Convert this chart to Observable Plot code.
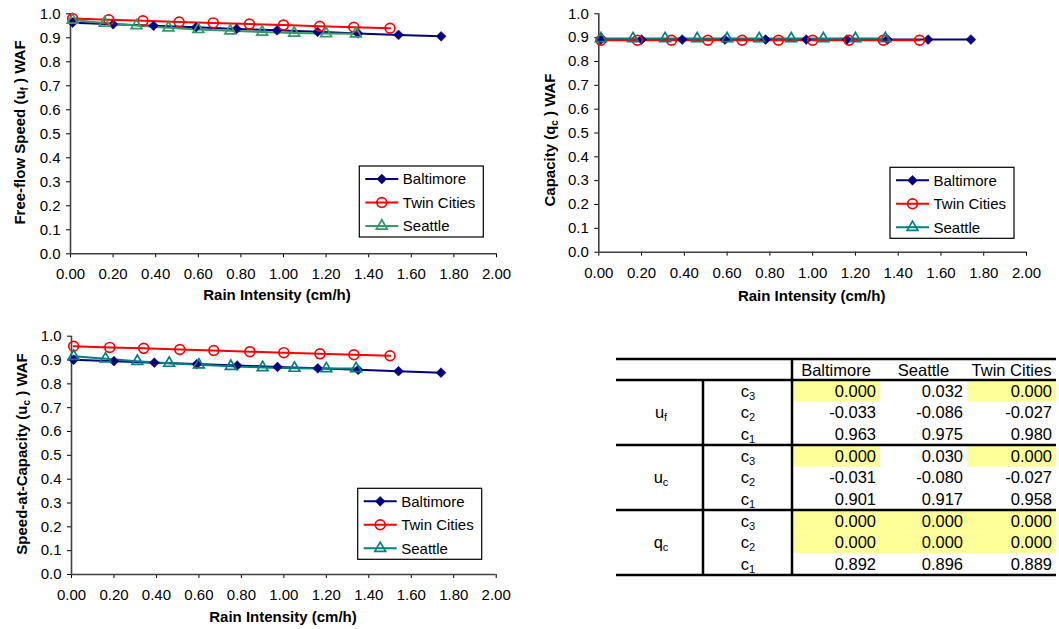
<!DOCTYPE html>
<html><head><meta charset="utf-8">
<script src="https://cdn.jsdelivr.net/npm/d3@7"></script>
<script src="https://cdn.jsdelivr.net/npm/@observablehq/plot@0.6"></script>
<style>
body{margin:0;background:#fff;font-family:"Liberation Sans",Arial,sans-serif;}
#root{position:relative;width:1059px;height:629px;overflow:hidden;background:#fff;}
.abs{position:absolute;}
</style></head><body><div id="root"></div>
<script>
// ---------- data ----------
const cityNames = ["Baltimore", "Twin Cities", "Seattle"];
const xTicks = [0, 0.2, 0.4, 0.6, 0.8, 1.0, 1.2, 1.4, 1.6, 1.8, 2.0];
const yTicks = [0, 0.1, 0.2, 0.3, 0.4, 0.5, 0.6, 0.7, 0.8, 0.9, 1.0];
const xAxisTitle = "Rain Intensity (cm/h)";

const baltimoreX = [0.01, 0.20, 0.39, 0.59, 0.78, 0.97, 1.16, 1.35, 1.54, 1.74];
const twinX      = [0.01, 0.18, 0.34, 0.51, 0.67, 0.84, 1.00, 1.17, 1.33, 1.50];
const seattleX   = [0.01, 0.16, 0.31, 0.46, 0.60, 0.75, 0.90, 1.05, 1.20, 1.34];

const baltimoreUf = [0.963, 0.956, 0.950, 0.944, 0.937, 0.931, 0.925, 0.918, 0.912, 0.906];
const twinUf      = [0.980, 0.975, 0.971, 0.966, 0.962, 0.957, 0.953, 0.948, 0.944, 0.940];
const seattleUf   = [0.974, 0.962, 0.951, 0.942, 0.935, 0.929, 0.924, 0.920, 0.918, 0.917];

const baltimoreQc = [0.892, 0.892, 0.892, 0.892, 0.892, 0.892, 0.892, 0.892, 0.892, 0.892];
const twinQc      = [0.889, 0.889, 0.889, 0.889, 0.889, 0.889, 0.889, 0.889, 0.889, 0.889];
const seattleQc   = [0.896, 0.896, 0.896, 0.896, 0.896, 0.896, 0.896, 0.896, 0.896, 0.896];

const baltimoreUc = [0.901, 0.895, 0.889, 0.883, 0.877, 0.871, 0.865, 0.859, 0.853, 0.847];
const twinUc      = [0.958, 0.953, 0.949, 0.944, 0.940, 0.935, 0.931, 0.926, 0.922, 0.918];
const seattleUc   = [0.916, 0.905, 0.895, 0.887, 0.880, 0.874, 0.869, 0.866, 0.864, 0.864];

// table
const tableCities = ["Baltimore", "Seattle", "Twin Cities"];
const paramBase = ["u", "u", "q"];
const paramSub = ["f", "c", "c"];
const coefSub = ["3", "2", "1"];
const ufCoefs = [[0.000, 0.032, 0.000], [-0.033, -0.086, -0.027], [0.963, 0.975, 0.980]];
const ucCoefs = [[0.000, 0.030, 0.000], [-0.031, -0.080, -0.027], [0.901, 0.917, 0.958]];
const qcCoefs = [[0.000, 0.000, 0.000], [0.000, 0.000, 0.000], [0.892, 0.896, 0.889]];
const highlightUf = [[1, 0, 1], [0, 0, 0], [0, 0, 0]];
const highlightUc = [[1, 0, 1], [0, 0, 0], [0, 0, 0]];
const highlightQc = [[1, 1, 1], [1, 1, 1], [0, 0, 0]];

// ---------- styles ----------
const NAVY = "#000080", RED = "#FF0000", GREEN = "#339966", TEAL = "#008080";
const FONT = "'Liberation Sans', Arial, sans-serif";
const root = document.getElementById("root");

function rows(xs, ys) { return xs.map((x, i) => ({x, y: ys[i]})); }

function makeChart(cfg) {
  const colors = [NAVY, RED, cfg.seattleColor];
  const series = [
    {name: cityNames[0], data: rows(baltimoreX, cfg.ys[0]), color: colors[0], symbol: "diamond2"},
    {name: cityNames[1], data: rows(twinX, cfg.ys[1]), color: colors[1], symbol: "circle"},
    {name: cityNames[2], data: rows(seattleX, cfg.ys[2]), color: colors[2], symbol: "triangle"}
  ];
  const dotOpts = (s) => s.symbol === "diamond2"
    ? {x: "x", y: "y", symbol: "diamond2", r: 4.4, fill: s.color, stroke: s.color, strokeWidth: 0.6}
    : s.symbol === "circle"
      ? {x: "x", y: "y", symbol: "circle", r: 4.9, fill: "none", stroke: s.color, strokeWidth: 1.7}
      : {x: "x", y: "y", symbol: "triangle", r: 4.0, fill: "none", stroke: s.color, strokeWidth: 1.7};
  const marks = [
    Plot.ruleY([0], {stroke: "#404040", strokeWidth: 1.6}),
    Plot.ruleX([0], {stroke: "#404040", strokeWidth: 1.6}),
    ...series.map(s => Plot.line(s.data, {x: "x", y: "y", stroke: s.color, strokeWidth: 2})),
    ...series.map(s => Plot.dot(s.data, dotOpts(s)))
  ];
  const svg = Plot.plot({
    width: cfg.width, height: cfg.height,
    marginLeft: cfg.ml, marginRight: cfg.mr, marginTop: cfg.mt, marginBottom: cfg.mb,
    style: {fontFamily: FONT, fontSize: "15px", color: "#000", background: "transparent", overflow: "visible"},
    x: {domain: [0, 2], ticks: xTicks, tickFormat: d => d.toFixed(2), tickSize: 4, tickPadding: 11, label: null},
    y: {domain: [0, 1], ticks: yTicks, tickFormat: d => d.toFixed(1), tickSize: 4, tickPadding: 6, label: null},
    marks
  });
  const s = d3.select(svg);
  // enforce tick label font size
  s.selectAll('g[aria-label^="x-axis"], g[aria-label^="y-axis"]')
    .attr("font-size", 15).style("font-size", "15px").attr("font-family", FONT);
  s.selectAll('g[aria-label^="x-axis"] text, g[aria-label^="y-axis"] text')
    .attr("font-size", 15).style("font-size", "15px");
  // x axis title
  s.append("text").attr("x", cfg.xTitleX).attr("y", cfg.xTitleY)
    .attr("text-anchor", "middle").attr("font-weight", "bold").attr("font-size", 15)
    .attr("font-family", FONT).attr("fill", "#000").text(xAxisTitle);
  // y axis title with subscript
  const yt = s.append("text").attr("transform", `translate(${cfg.yTitleX},${cfg.yTitleY}) rotate(-90)`)
    .attr("text-anchor", "middle").attr("font-weight", "bold").attr("font-size", 15)
    .attr("font-family", FONT).attr("fill", "#000");
  yt.append("tspan").attr("dy", 5.3).text(cfg.yTitle[0]);
  yt.append("tspan").attr("dy", 3).attr("font-size", 10).text(cfg.yTitle[1]);
  yt.append("tspan").attr("dy", -3).text(cfg.yTitle[2]);
  // legend
  const lg = s.append("g").attr("transform", `translate(${cfg.legend[0]},${cfg.legend[1]})`);
  lg.append("rect").attr("x", 0).attr("y", 0).attr("width", 124).attr("height", 71)
    .attr("fill", "#fff").attr("stroke", "#000").attr("stroke-width", 1.2);
  const symMap = {diamond2: d3.symbolDiamond2, circle: d3.symbolCircle, triangle: d3.symbolTriangle};
  series.forEach((ser, i) => {
    const cy = 13 + i * 23.5;
    lg.append("line").attr("x1", 6).attr("x2", 39).attr("y1", cy).attr("y2", cy)
      .attr("stroke", ser.color).attr("stroke-width", 2);
    const o = dotOpts(ser);
    lg.append("path").attr("transform", `translate(22.5,${cy})`)
      .attr("d", d3.symbol(symMap[ser.symbol], Math.PI * o.r * o.r)())
      .attr("fill", o.fill).attr("stroke", o.stroke).attr("stroke-width", o.strokeWidth);
    lg.append("text").attr("x", 43.5).attr("y", cy).attr("dy", "0.36em")
      .attr("text-anchor", "start")
      .attr("font-size", 15).attr("font-family", FONT).attr("fill", "#000").text(ser.name);
  });
  const div = document.createElement("div");
  div.className = "abs";
  div.style.left = cfg.left + "px"; div.style.top = cfg.top + "px";
  div.appendChild(svg);
  root.appendChild(div);
}

makeChart({
  left: 0, top: 0, width: 530, height: 310, ml: 70, mr: 34, mt: 13.3, mb: 56.7,
  ys: [baltimoreUf, twinUf, seattleUf], seattleColor: GREEN,
  yTitle: ["Free-flow Speed (u", "f", " ) WAF"], yTitleX: 20, yTitleY: 132.5,
  xTitleX: 277, xTitleY: 299.5, legend: [359.3, 166]
});
makeChart({
  left: 530, top: 0, width: 529, height: 310, ml: 68.3, mr: 33, mt: 13.3, mb: 58.3,
  ys: [baltimoreQc, twinQc, seattleQc], seattleColor: TEAL,
  yTitle: ["Capacity (q", "c", " ) WAF"], yTitleX: 20, yTitleY: 140,
  xTitleX: 281.7, xTitleY: 300.5, legend: [360, 167.3]
});
makeChart({
  left: 0, top: 320, width: 530, height: 309, ml: 71, mr: 34.3, mt: 15.7, mb: 55,
  ys: [baltimoreUc, twinUc, seattleUc], seattleColor: TEAL,
  yTitle: ["Speed-at-Capacity (u", "c", " ) WAF"], yTitleX: 21.5, yTitleY: 134,
  xTitleX: 283, xTitleY: 302, legend: [357.7, 168.3]
});

// ---------- table ----------
(function makeTable() {
  const W = 440, headerH = 21, rowH = 65 / 3, groupH = 65;
  const colEdges = [0, 87, 176, 264, 351, 440]; // group, coef, Baltimore, Seattle, Twin Cities
  const svgW = 460, svgH = 240, ox = 10, oy = 10;
  const svg = d3.create("svg").attr("width", svgW).attr("height", svgH)
    .style("font-family", FONT).style("overflow", "visible");
  const g = svg.append("g").attr("transform", `translate(${ox},${oy})`);
  const groups = [ufCoefs, ucCoefs, qcCoefs];
  const hls = [highlightUf, highlightUc, highlightQc];
  // highlights
  groups.forEach((grp, gi) => {
    grp.forEach((row, ri) => {
      row.forEach((v, ci) => {
        if (hls[gi][ri][ci]) {
          g.append("rect").attr("x", colEdges[ci + 2]).attr("y", headerH + gi * groupH + ri * rowH)
            .attr("width", colEdges[ci + 3] - colEdges[ci + 2]).attr("height", rowH)
            .attr("fill", "#FFFF99");
        }
      });
    });
  });
  // header
  tableCities.forEach((c, ci) => {
    g.append("text").attr("x", (colEdges[ci + 2] + colEdges[ci + 3]) / 2).attr("y", headerH / 2 + 1)
      .attr("dy", "0.36em").attr("text-anchor", "middle").attr("font-size", 16.5).text(c);
  });
  // body
  groups.forEach((grp, gi) => {
    const gy = headerH + gi * groupH;
    const gl = g.append("text").attr("x", 45).attr("y", gy + groupH / 2).attr("dy", "0.36em")
      .attr("text-anchor", "middle").attr("font-size", 16.5);
    gl.append("tspan").text(paramBase[gi]);
    gl.append("tspan").attr("font-size", 11).attr("dy", 3).text(paramSub[gi]);
    grp.forEach((row, ri) => {
      const cy = gy + ri * rowH + rowH / 2;
      const cl = g.append("text").attr("x", 132).attr("y", cy).attr("dy", "0.36em")
        .attr("text-anchor", "middle").attr("font-size", 16.5);
      cl.append("tspan").text("c");
      cl.append("tspan").attr("font-size", 11).attr("dy", 3).text(coefSub[ri]);
      row.forEach((v, ci) => {
        g.append("text").attr("x", colEdges[ci + 3] - 4).attr("y", cy).attr("dy", "0.36em")
          .attr("text-anchor", "end").attr("font-size", 16.5).text(v.toFixed(3));
      });
    });
  });
  // lines
  const lw = 2.5;
  [0, headerH, headerH + groupH, headerH + 2 * groupH, headerH + 3 * groupH].forEach(y => {
    g.append("line").attr("x1", 0).attr("x2", W).attr("y1", y).attr("y2", y)
      .attr("stroke", "#000").attr("stroke-width", lw);
  });
  g.append("line").attr("x1", colEdges[2]).attr("x2", colEdges[2]).attr("y1", 0).attr("y2", headerH + 3 * groupH)
    .attr("stroke", "#000").attr("stroke-width", lw);
  g.append("line").attr("x1", colEdges[1]).attr("x2", colEdges[1]).attr("y1", headerH).attr("y2", headerH + 3 * groupH)
    .attr("stroke", "#000").attr("stroke-width", lw);
  const div = document.createElement("div");
  div.className = "abs";
  div.style.left = (616 - ox) + "px"; div.style.top = (359 - oy) + "px";
  div.appendChild(svg.node());
  root.appendChild(div);
})();
</script>
</body></html>
